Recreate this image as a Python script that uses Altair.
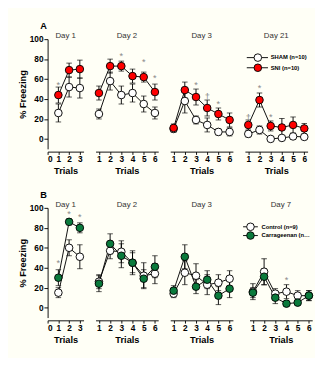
import altair as alt
import pandas as pd

FONT = "Liberation Sans"

# ---------------- data ----------------
DAYS_A = ["Day 1", "Day 2", "Day 3", "Day 21"]
DAYS_B = ["Day 1", "Day 2", "Day 3", "Day 7"]
GROUPS_A = ["SHAM (n=10)", "SNI (n=10)"]
GROUPS_B = ["Control (n=9)", "Carrageenan (n=10)"]
COLORS_A = ["#ffffff", "#ff0000"]
COLORS_B = ["#ffffff", "#0a7a3c"]
PANEL_LABELS = ["A", "B"]

A_SHAM = {"Day 1": [26, 52, 51], "Day 2": [25, 58, 44, 46, 35, 26],
          "Day 3": [10, 38, 19, 14, 7, 7], "Day 21": [5, 9, 0, 1, 2.5, 2]}
A_SHAM_ERR = {"Day 1": [9, 10, 10], "Day 2": [5, 9, 9, 9, 8, 6],
              "Day 3": [3, 12, 4, 7, 3, 4], "Day 21": [3, 4, 1, 2, 3, 2]}
A_SNI = {"Day 1": [44, 69, 70], "Day 2": [46, 73, 73, 63, 62, 47],
         "Day 3": [11, 49, 42, 31, 25, 19], "Day 21": [14, 39, 13, 11.5, 14, 10.5]}
A_SNI_ERR = {"Day 1": [8, 7, 9], "Day 2": [7, 7, 5, 7, 5, 8],
             "Day 3": [4, 8, 8, 8, 6, 7], "Day 21": [5, 7, 5, 9, 8, 5]}

B_CTRL = {"Day 1": [15, 60, 51], "Day 2": [26, 57, 56, 45, 32, 34],
          "Day 3": [14, 35, 32, 23, 25, 29], "Day 7": [16, 36, 14, 16, 12, 12]}
B_CTRL_ERR = {"Day 1": [5, 8, 12], "Day 2": [7, 8, 11, 10, 13, 10],
              "Day 3": [4, 12, 12, 10, 8, 8], "Day 7": [8, 13, 5, 7, 5, 5]}
B_CAR = {"Day 1": [30, 86, 80], "Day 2": [24, 64, 52, 45, 29, 41],
         "Day 3": [17, 51, 21, 28, 12, 19], "Day 7": [15, 31, 10, 4, 5, 12]}
B_CAR_ERR = {"Day 1": [8, 3, 5], "Day 2": [8, 10, 12, 12, 9, 11],
             "Day 3": [5, 12, 7, 9, 9, 9], "Day 7": [5, 8, 6, 2, 2, 5]}

ANN_A = [("Day 1", 1, 56, "*"), ("Day 2", 3, 85, "*"), ("Day 2", 5, 79, "*"),
         ("Day 2", 6, 63, "*"), ("Day 3", 3, 56, "*"), ("Day 3", 4, 44, "†"),
         ("Day 3", 5, 37, "*"), ("Day 21", 1, 23, "†"), ("Day 21", 2, 53, "*"),
         ("Day 21", 3, 24, "*")]
ANN_B = [("Day 1", 1, 46, "*"), ("Day 1", 2, 95, "*"), ("Day 1", 3, 92, "*"),
         ("Day 7", 4, 29, "*")]

Y_TICKS = [0, 20, 40, 60, 80, 100]
H = 119


def build(groups, series):
    rows = []
    for g, (means, errs) in zip(groups, series):
        for day in means:
            for i, (m, e) in enumerate(zip(means[day], errs[day])):
                rows.append(dict(day=day, group=g, trial=i + 1, mean=m,
                                 lo=m - e, hi=m + e))
    return pd.DataFrame(rows)


df_a = build(GROUPS_A, [(A_SHAM, A_SHAM_ERR), (A_SNI, A_SNI_ERR)])
df_b = build(GROUPS_B, [(B_CTRL, B_CTRL_ERR), (B_CAR, B_CAR_ERR)])
ann_a = pd.DataFrame(ANN_A, columns=["day", "trial", "y", "sym"])
ann_b = pd.DataFrame(ANN_B, columns=["day", "trial", "y", "sym"])


def legend_layers(groups, colors, style):
    # key drawn inside the last panel (pixel placement = styling only)
    x1, x2, xc, xt, y0, dy, lim = style
    out = []
    for k, (g, c) in enumerate(zip(groups, colors)):
        yy = y0 + k * dy
        src = alt.Chart(pd.DataFrame({"g": [g]}))
        out.append(src.mark_rule(color="black", strokeWidth=1).encode(
            x=alt.value(x1), x2=alt.value(x2), y=alt.value(yy)))
        out.append(src.mark_point(shape="circle", filled=True, size=68, fill=c,
                                  stroke="black", strokeWidth=1, opacity=1).encode(
            x=alt.value(xc), y=alt.value(yy)))
        out.append(src.mark_text(align="left", baseline="middle", font=FONT,
                                 fontSize=6.3, fontWeight="bold", color="black",
                                 limit=lim).encode(
            x=alt.value(xt), y=alt.value(yy), text="g:N"))
    return out


def text_label(txt, x, y, size, weight, color, align):
    return alt.Chart(pd.DataFrame({"t": [txt]})).mark_text(
        align=align, baseline="middle", fontSize=size, fontWeight=weight,
        font=FONT, color=color).encode(x=alt.value(x), y=alt.value(y), text="t:N")


def panel(df, ann, day, first, last, groups, colors, key_style, label):
    d = df[df.day == day]
    a = ann[ann.day == day]
    if first:
        xdom, ticks, w = [0, 3.35], [0, 1, 2, 3], 39
    else:
        xdom, ticks, w = [0.7, 6.3], [1, 2, 3, 4, 5, 6], 68
    xs = alt.Scale(domain=xdom, nice=False, zero=False)
    xa = alt.Axis(values=ticks, title="Trials", offset=3, format="d")
    ys = alt.Scale(domain=[-10, 100], nice=False, zero=False)
    ya = alt.Axis(values=Y_TICKS, title="% Freezing") if first else None

    def X():
        return alt.X("trial:Q", scale=xs, axis=xa)

    def Y(f):
        return alt.Y(f, scale=ys, axis=ya, title="% Freezing")

    line = alt.Chart(d).mark_line(color="black", strokeWidth=1).encode(
        x=X(), y=Y("mean:Q"), detail="group:N")
    rule = alt.Chart(d).mark_rule(color="black", strokeWidth=1).encode(
        x=X(), y=Y("lo:Q"), y2="hi:Q")
    caps = alt.Chart(d).transform_fold(["lo", "hi"], as_=["end", "val"]).mark_tick(
        color="black", orient="horizontal", size=6, thickness=1).encode(
        x=X(), y=Y("val:Q"))
    pts = alt.Chart(d).mark_circle(size=68, stroke="black", strokeWidth=1,
                                   opacity=1).encode(
        x=X(), y=Y("mean:Q"),
        fill=alt.Fill("group:N", scale=alt.Scale(domain=groups, range=colors),
                      legend=None))
    layers = [line, rule, caps, pts]
    if len(a):
        txt = alt.Chart(a).mark_text(color="#8a8a8a", fontSize=10, font=FONT,
                                     baseline="middle", dy=2).encode(
            x=X(), y=Y("y:Q"), text="sym:N")
        layers.append(txt)
    if last:
        layers += legend_layers(groups, colors, key_style)
    if first:
        # panel letter and the first day heading, placed like titles
        layers.append(text_label(label, -8, -14, 10, "bold", "black", "left"))
        layers.append(text_label(day, w / 2, -4.25, 8.5, "normal", "#333333", "center"))
        return alt.layer(*layers).properties(width=w, height=H)
    return alt.layer(*layers).properties(
        width=w, height=H,
        title=alt.TitleParams(day, fontSize=8.5, fontWeight="normal",
                              color="#333333", font=FONT, offset=0))


KEY_A = (2, 25, 14, 28, 20, 11, 41)
KEY_B = (-7, 9, 1, 13, 20.5, 9.5, 55)


def row(df, ann, days, groups, colors, key_style, label):
    n = len(days)
    panels = [panel(df, ann, d, i == 0, i == n - 1, groups, colors, key_style, label)
              for i, d in enumerate(days)]
    return alt.hconcat(*panels, spacing=7)


row_a = row(df_a, ann_a, DAYS_A, GROUPS_A, COLORS_A, KEY_A, PANEL_LABELS[0])
row_b = row(df_b, ann_b, DAYS_B, GROUPS_B, COLORS_B, KEY_B, PANEL_LABELS[1])

chart = alt.vconcat(row_a, row_b, spacing=16).resolve_scale(fill="independent").properties(
    background="#fffff6",
    padding={"left": 10, "top": 0, "right": 0, "bottom": 0},
).configure_view(stroke=None).configure_axis(
    domainColor="black", tickColor="black", tickSize=4, grid=False,
    labelFont=FONT, labelFontSize=9, labelFontWeight="bold", labelColor="black",
    labelPadding=1, titleFont=FONT, titleFontSize=10, titleFontWeight="bold",
    titleColor="black", titlePadding=3,
).configure_axisY(titlePadding=2).configure_axisX(tickSize=3, titlePadding=3)

chart.save("out.html", embed_options={"renderer": "svg", "actions": False})
